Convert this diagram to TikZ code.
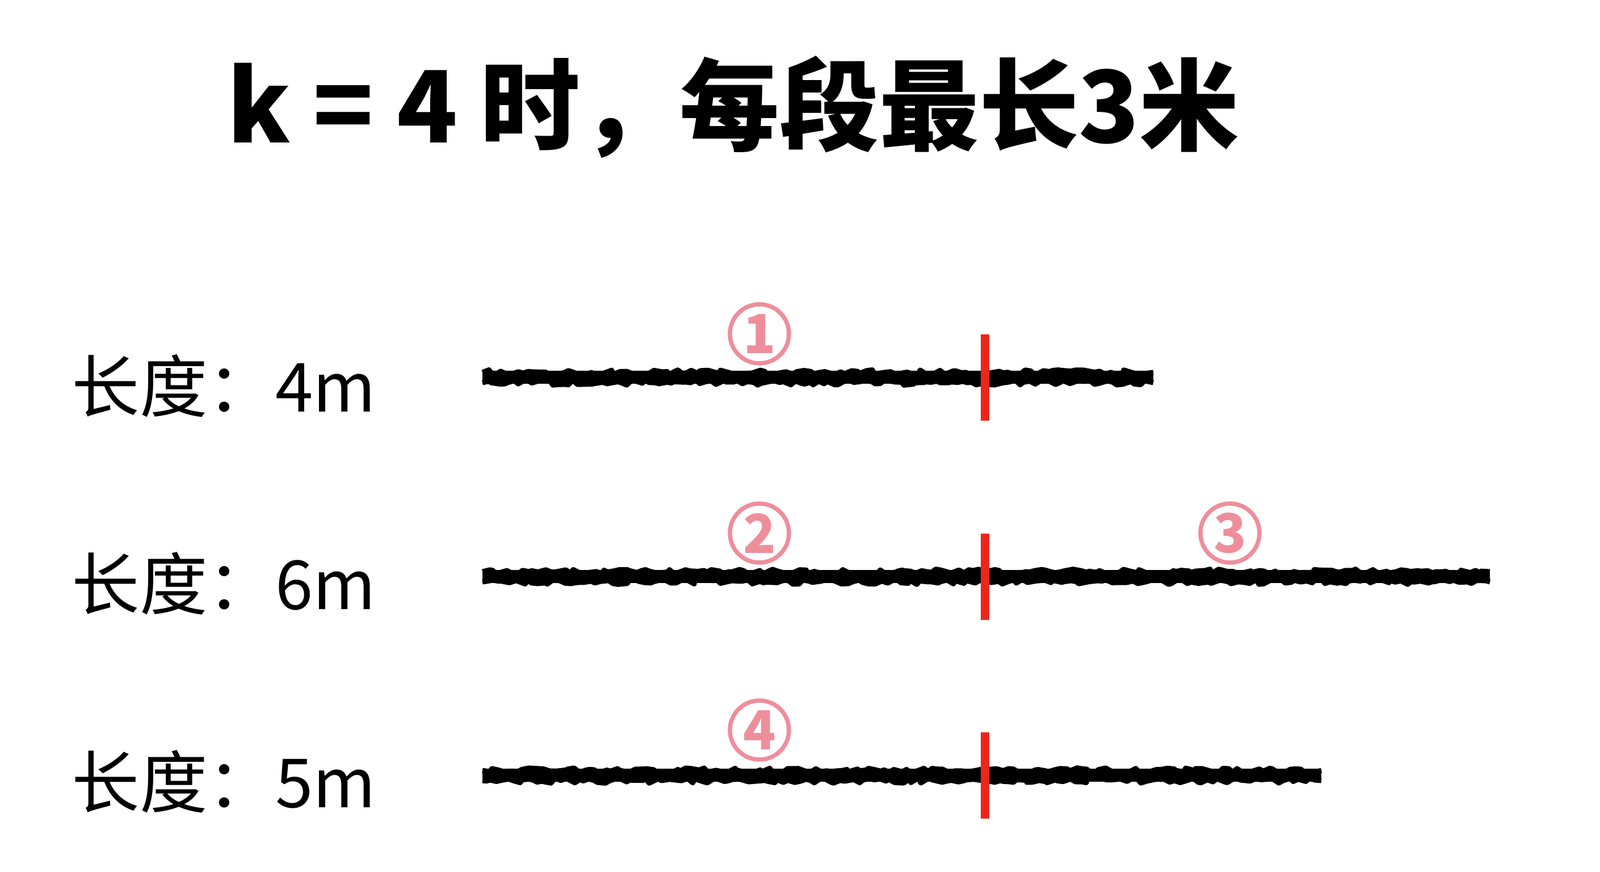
\documentclass[tikz,border=0pt]{standalone}
\usepackage{fontspec}
\setmainfont{Noto Sans CJK SC}
\usepackage{tikz}
\usetikzlibrary{positioning,decorations.pathmorphing}
\definecolor{tagpink}{RGB}{238,142,155}
\definecolor{cutred}{RGB}{236,38,24}

\begin{document}
\begin{tikzpicture}[
        titletext/.style={font=\fontsize{50}{56}\selectfont\bfseries, inner sep=0pt},
        lentext/.style={font=\fontsize{34}{40}\selectfont, anchor=west, inner sep=0pt},
        rope/.style={black, line width=2.3mm},
        ropeedge/.style={black, line width=0.9mm, line join=round, decorate, decoration={random steps, segment length=0.9mm, amplitude=0.45mm}},
        cut/.style={cutred, line width=1.5mm},
        piece/.style={draw=tagpink, circle, line width=0.75mm, minimum size=1.04cm, inner sep=0pt, text=tagpink, font=\fontsize{27}{30}\selectfont\bfseries}
    ]
    \useasboundingbox (0,0) rectangle (28.19,15.35);
    % Titulo
    \node[titletext] (titulo) at (12.92,13.46) {k = 4 时，每段最长3米};
    % Comprimentos
    \node[lentext] (len4) at (1.26,8.55) {长度：4m};
    \node[lentext] (len6) at (1.26,5.07) {长度：6m};
    \node[lentext] (len5) at (1.26,1.58) {长度：5m};
    % Cordas
    \coordinate (a1) at (8.50,8.70); \coordinate (b1) at (20.32,8.70);
    \coordinate (a2) at (8.50,5.19); \coordinate (b2) at (26.25,5.19);
    \coordinate (a3) at (8.50,1.69); \coordinate (b3) at (23.28,1.69);
    \foreach \i in {1,2,3} {
        \draw[rope] (a\i) -- (b\i);
        \draw[ropeedge] ([yshift=0.9mm]a\i) -- ([yshift=0.9mm]b\i);
        \draw[ropeedge] ([yshift=-0.9mm]a\i) -- ([yshift=-0.9mm]b\i);
    }
    % Cortes a 3m
    \coordinate (c1) at (17.35,8.70);
    \coordinate (c2) at (17.35,5.19);
    \coordinate (c3) at (17.35,1.69);
    \foreach \i in {1,2,3}
        \draw[cut] ([yshift=0.76cm]c\i) -- ([yshift=-0.76cm]c\i);
    % Pedacos
    \node[piece] (p1) at (13.38,9.47) {1};
    \node[piece] (p2) at (13.38,5.96) {2};
    \node[piece] (p3) at (21.67,5.96) {3};
    \node[piece] (p4) at (13.38,2.49) {4};
\end{tikzpicture}
\end{document}
